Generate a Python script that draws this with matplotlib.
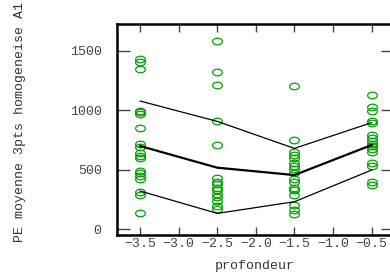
import numpy as np
import matplotlib
matplotlib.use("Agg")
import matplotlib.pyplot as plt
from matplotlib.path import Path
from matplotlib.transforms import Affine2D

plt.rcParams['font.family'] = ['Liberation Mono', 'DejaVu Sans Mono']

# observations per depth
d35 = [1431, 1406, 1347, 997, 983, 966, 851, 714, 689, 644, 618, 597, 493, 470, 448, 425, 311, 291, 134]
d25 = [1579, 1322, 1215, 908, 711, 430, 400, 380, 350, 330, 300, 270, 240, 200, 170]
d15 = [1204, 750, 647, 624, 602, 555, 532, 507, 470, 420, 400, 350, 330, 288, 204, 162, 129]
d05 = [1128, 1030, 997, 913, 891, 790, 770, 745, 720, 700, 675, 650, 555, 530, 395, 372]
depths = [-3.5, -2.5, -1.5, -0.5]
groups = [d35, d25, d15, d05]

# mean and envelope lines
mean_line = [700, 518, 456, 708]
upper_line = [1078, 907, 680, 896]
lower_line = [322, 134, 232, 498]

ellipse = Path.unit_circle().transformed(Affine2D().scale(1.0, 0.68))

fig = plt.figure(figsize=(3.9, 2.73), dpi=100)
ax = fig.add_axes([0.30, 0.139, 0.708, 0.773])

for d, vals in zip(depths, groups):
    ax.plot([d] * len(vals), vals, linestyle='none', marker=ellipse, markersize=7,
            markerfacecolor='none', markeredgecolor='#00a000', markeredgewidth=0.9)

ax.plot(depths, mean_line, color='black', lw=1.6)
ax.plot(depths, upper_line, color='black', lw=0.9)
ax.plot(depths, lower_line, color='black', lw=0.9)

ax.set_xlim(-3.8, -0.22)
ax.set_ylim(-48, 1725)
ax.set_xticks([-3.5, -3.0, -2.5, -2.0, -1.5, -1.0, -0.5])
ax.set_yticks([0, 500, 1000, 1500])

for s in ax.spines.values():
    s.set_linewidth(1.8)
ax.tick_params(axis='x', direction='in', length=6, width=1, top=True,
               labelsize=9.5, labelcolor='#444444', color='#444444', pad=2)
ax.tick_params(axis='y', direction='in', length=9, width=1, right=True,
               labelsize=9.5, labelcolor='#444444', color='#444444', pad=11)

ax.set_xlabel('profondeur', fontsize=9.5, color='#333333', labelpad=7)
ax.set_ylabel('PE moyenne 3pts homogeneise A1', fontsize=9.5, color='#333333')
ax.yaxis.set_label_coords(-0.33, 0.535)

fig.savefig('out.png', dpi=100)
